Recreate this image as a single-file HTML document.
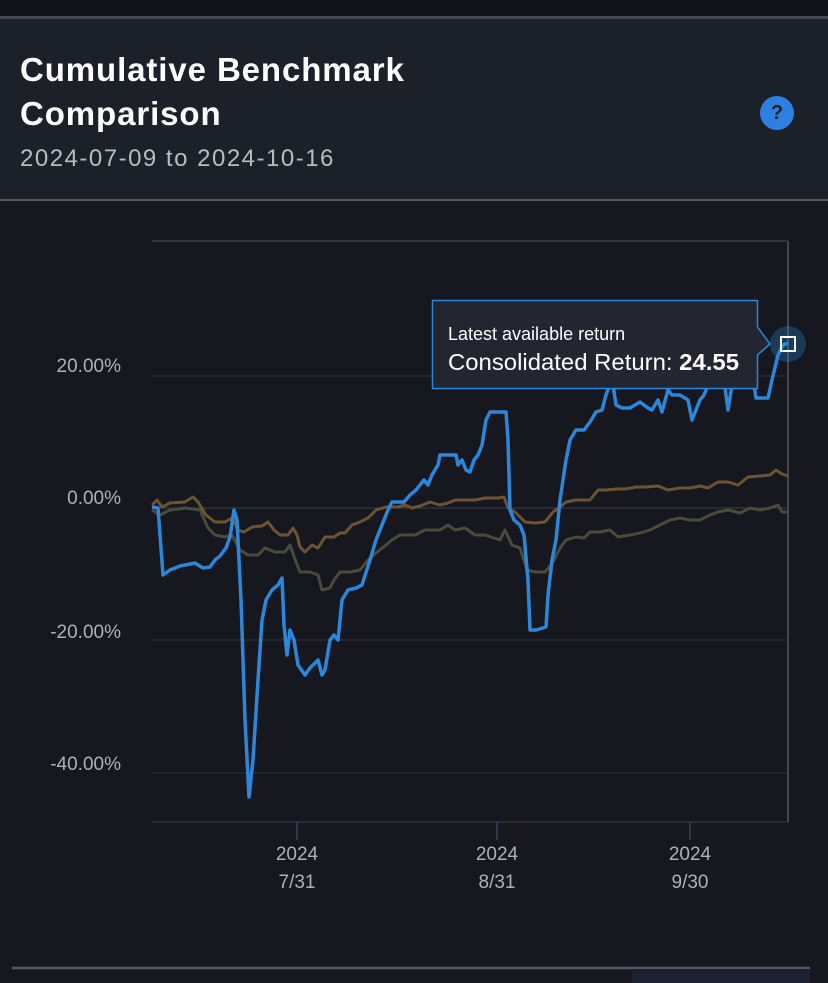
<!DOCTYPE html>
<html><head><style>
body{margin:0;width:828px;height:983px;background:#16171f;overflow:hidden;font-family:"Liberation Sans",sans-serif;position:relative}
.top{position:absolute;left:0;top:0;width:828px;height:16px;background:#13141b}
.hdr{position:absolute;left:0;top:16px;width:828px;height:185px;background:#1b2029;border-top:3px solid #44474f;border-bottom:2px solid #55585f;box-sizing:border-box}
.t{position:absolute;left:20px;top:48px;color:#fff;font-size:33px;line-height:44px;font-weight:bold;letter-spacing:0.9px}
.d{position:absolute;left:20px;top:145px;color:#b9bcc2;font-size:24px;letter-spacing:1.5px}
.q{position:absolute;left:760px;top:96px;width:34px;height:34px;border-radius:50%;background:#2f7fe0;color:#1b2029;font-weight:bold;text-align:center;line-height:34px;font-size:20px}
</style></head><body>
<div class="top"></div>
<div class="hdr"></div>
<div class="t">Cumulative Benchmark<br>Comparison</div>
<div class="d">2024-07-09 to 2024-10-16</div>
<div class="q">?</div>
<svg width="828" height="983" style="position:absolute;left:0;top:0" font-family="Liberation Sans, sans-serif">
<line x1="152" y1="241" x2="788" y2="241" stroke="#3a3c45" stroke-width="1.5"/>
<line x1="788" y1="241" x2="788" y2="822" stroke="#55575f" stroke-width="1.5"/>
<line x1="152" y1="376" x2="788" y2="376" stroke="#33353d"/>
<line x1="152" y1="508" x2="788" y2="508" stroke="#3e4048"/>
<line x1="152" y1="640" x2="788" y2="640" stroke="#33353d"/>
<line x1="152" y1="773" x2="788" y2="773" stroke="#33353d"/>
<line x1="152" y1="822" x2="788" y2="822" stroke="#30323b" stroke-width="1.5"/>
<g stroke="#2c4466" stroke-width="1.5"><line x1="297" y1="822" x2="297" y2="840"/><line x1="497" y1="822" x2="497" y2="840"/><line x1="690" y1="822" x2="690" y2="840"/></g>
<g fill="#aeb1b8" font-size="19" text-anchor="end"><text x="121" y="372">20.00%</text><text x="121" y="504">0.00%</text><text x="121" y="638">-20.00%</text><text x="121" y="770">-40.00%</text></g>
<g fill="#aeb1b8" font-size="19" text-anchor="middle"><text x="297" y="860">2024</text><text x="297" y="888">7/31</text><text x="497" y="860">2024</text><text x="497" y="888">8/31</text><text x="690" y="860">2024</text><text x="690" y="888">9/30</text></g>
<polyline fill="none" stroke="#4a4b3c" stroke-width="3" stroke-linejoin="round" points="152,510 160,515 170,510 185,508 200,510 208,528 215,535 225,537 232,535 240,550 248,555 258,555 265,548 275,552 285,552 290,545 296,562 300,572 310,572 318,575 322,590 330,588 334,580 340,572 350,572 360,570 368,560 376,553 386,545 392,540 400,535 415,535 425,530 440,530 448,525 455,530 465,528 475,535 485,535 500,540 505,530 512,545 520,548 527,570 535,572 545,572 553,562 560,548 566,540 576,537 584,538 590,532 600,532 610,530 618,537 630,535 640,533 650,530 660,525 670,520 680,518 690,520 700,520 710,515 718,512 728,510 740,513 750,508 760,510 770,508 778,505 782,512 788,512"/>
<polyline fill="none" stroke="#6b5433" stroke-width="3" stroke-linejoin="round" points="152,505 157,500 162,507 170,503 185,502 193,497 198,502 206,515 215,522 225,522 232,518 238,530 244,532 252,527 262,526 268,522 274,530 280,535 288,535 293,528 297,535 300,547 305,552 312,545 318,548 325,537 334,537 340,533 345,533 352,525 360,522 368,518 376,510 386,507 398,507 405,505 412,508 420,506 430,502 440,505 448,503 455,500 465,500 475,500 485,498 498,498 504,497 508,508 515,512 525,522 535,523 545,522 553,512 560,507 566,502 576,500 584,500 590,500 598,490 606,490 616,489 626,489 636,487 646,487 658,486 668,490 680,488 690,488 700,486 708,488 718,482 728,482 738,485 748,477 760,476 770,475 776,470 782,474 788,476"/>
<polyline fill="none" stroke="#2a87d9" stroke-width="3.5" stroke-linejoin="round" points="152,507 158,508 163,575 170,570 180,566 195,563 203,568 210,567 215,560 220,556 226,548 230,537 234,510 237,520 241,600 245,720 249,797 253,760 258,680 262,620 266,600 272,590 278,585 282,578 284,625 287,655 290,630 294,640 298,665 305,675 310,668 318,660 322,675 325,670 330,640 334,635 338,640 342,600 348,590 356,588 362,585 370,560 376,540 382,525 388,510 392,502 404,502 410,495 416,490 420,485 424,480 428,485 432,475 438,465 440,455 456,455 458,465 462,460 466,470 470,472 474,460 478,455 482,445 486,420 490,412 506,412 508,440 510,510 514,520 520,525 524,535 528,580 530,630 536,630 546,627 548,595 552,560 556,540 560,500 566,460 570,440 576,430 584,430 590,422 596,412 602,410 606,395 612,378 616,405 622,408 630,408 640,402 648,408 652,410 658,400 662,412 668,390 672,395 680,395 688,400 692,420 696,410 700,400 704,395 708,385 712,370 718,355 724,380 728,410 732,385 736,380 740,370 746,370 752,372 756,398 768,398 772,380 778,355 783,345 788,343"/>
<circle cx="788" cy="344" r="18" fill="#2a87d9" fill-opacity="0.3"/>
<rect x="781" y="337" width="14" height="14" fill="none" stroke="#fff" stroke-width="2"/>
<path d="M432.5,300.5 H757.5 V327 L770,344 L757.5,355 V388.5 H432.5 Z" fill="#232630" stroke="#2a87d9" stroke-width="1.5"/>
<text x="448" y="340" fill="#fff" font-size="18">Latest available return</text>
<text x="448" y="370" fill="#fff" font-size="23" textLength="291" lengthAdjust="spacingAndGlyphs">Consolidated Return: <tspan font-weight="bold">24.55</tspan></text>
<line x1="12" y1="968" x2="810" y2="968" stroke="#55585f" stroke-width="2.5"/>
<rect x="632" y="969" width="178" height="14" fill="#1d2232"/>
</svg>
</body></html>
